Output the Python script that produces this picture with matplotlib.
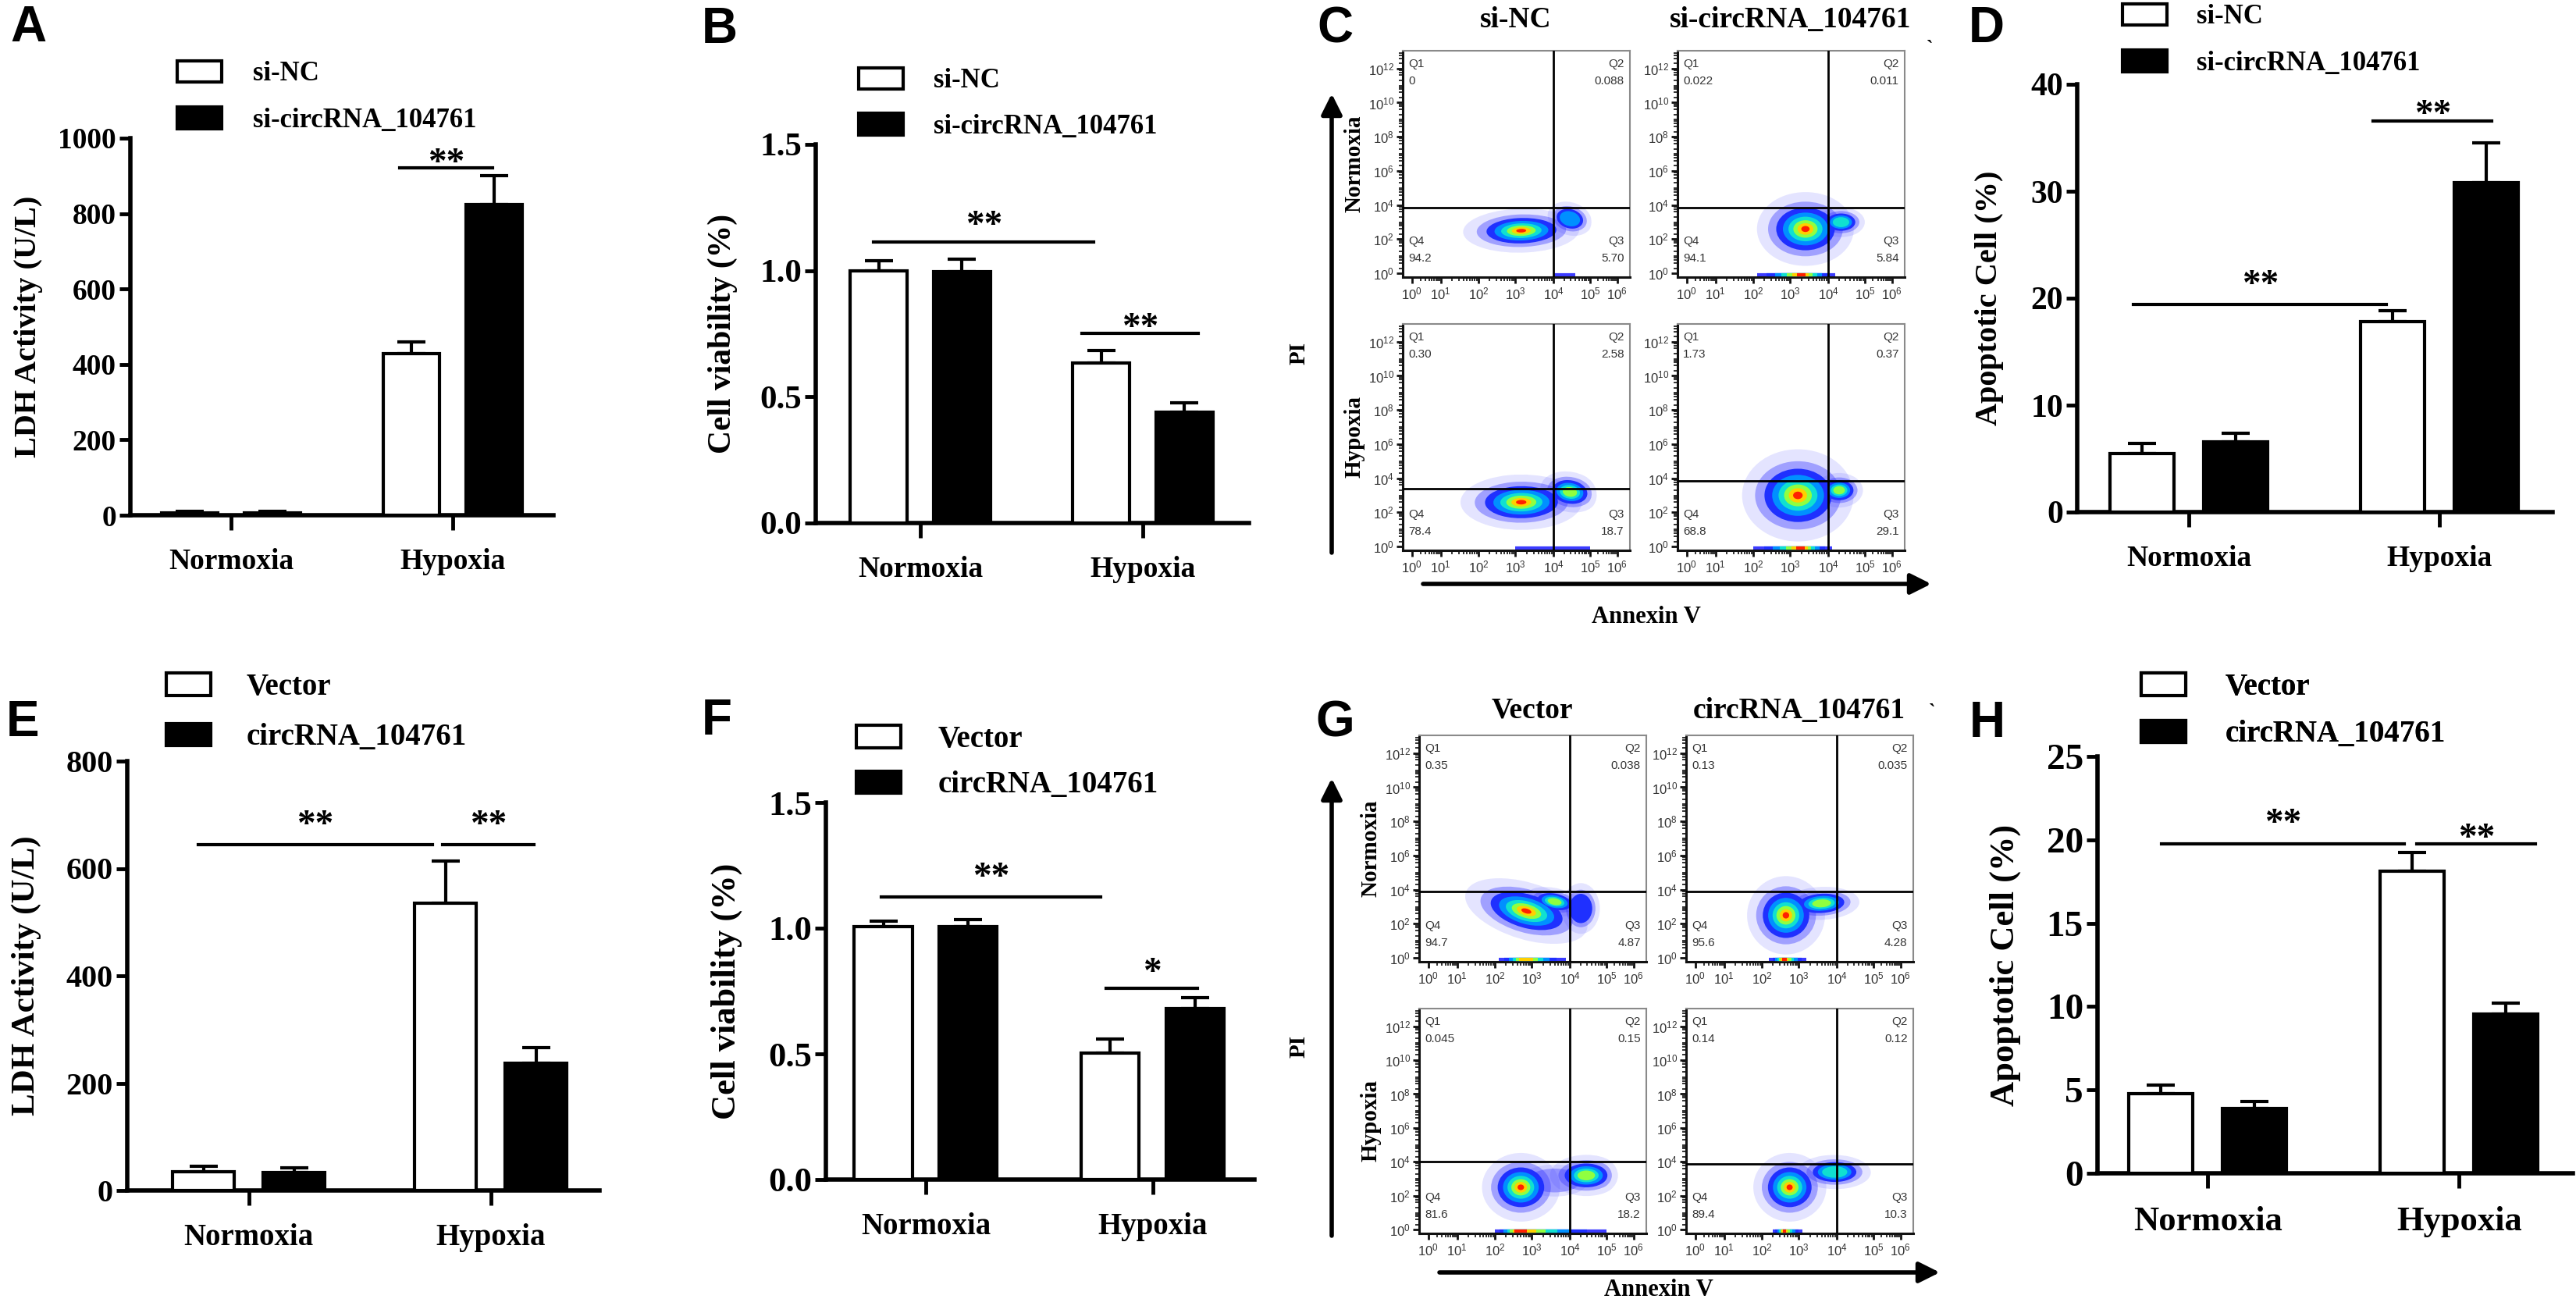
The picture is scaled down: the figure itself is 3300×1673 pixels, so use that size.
import numpy as np
import matplotlib
matplotlib.use('Agg')
import matplotlib.pyplot as plt
from matplotlib.patches import Ellipse, Patch
from matplotlib.ticker import FixedLocator

plt.rcParams['font.family'] = ['Liberation Serif', 'DejaVu Serif']
plt.rcParams['font.weight'] = 'bold'
plt.rcParams['axes.labelweight'] = 'bold'

W, H = 3300, 1673

# ---------------- data ----------------
groups = ['Normoxia', 'Hypoxia']

# A: LDH, si-NC vs si-circRNA_104761
a_white, a_white_err = [7, 428], [3, 32]
a_black, a_black_err = [7, 825], [3, 75]
# B: cell viability
b_white, b_white_err = [1.00, 0.635], [0.04, 0.05]
b_black, b_black_err = [0.995, 0.44], [0.05, 0.037]
# D: apoptotic cells
d_white, d_white_err = [5.45, 17.8], [0.95, 1.0]
d_black, d_black_err = [6.55, 30.8], [0.8, 3.7]
# E: LDH, Vector vs circRNA_104761
e_white, e_white_err = [35, 535], [10, 79]
e_black, e_black_err = [34, 237], [8, 29]
# F: cell viability
f_white, f_white_err = [1.005, 0.502], [0.022, 0.057]
f_black, f_black_err = [1.005, 0.68], [0.028, 0.045]
# H: apoptotic cells
h_white, h_white_err = [4.77, 18.1], [0.53, 1.14]
h_black, h_black_err = [3.89, 9.55], [0.43, 0.65]

# significance bars: (x0, x1, y_line, y_star, label)
a_sig = [(0.76, 1.18, 922, 952, '**')]
b_sig = [(-0.21, 0.78, 1.114, 1.206, '**'), (0.725, 1.25, 0.753, 0.80, '**')]
d_sig = [(-0.22, 0.79, 19.4, 21.9, '**'), (0.736, 1.21, 36.6, 37.8, '**')]
e_sig = [(-0.21, 0.76, 645, 694, '**'), (0.80, 1.18, 645, 694, '**')]
f_sig = [(-0.196, 0.772, 1.124, 1.23, '**'), (0.793, 1.198, 0.76, 0.85, '*')]
h_sig = [(-0.183, 0.783, 19.74, 21.4, '**'), (0.833, 1.304, 19.76, 20.5, '**')]

# flow cytometry quadrant percentages (Q1, Q2, Q3, Q4)
c_quads = [['0', '0.088', '5.70', '94.2'], ['0.022', '0.011', '5.84', '94.1'],
           ['0.30', '2.58', '18.7', '78.4'], ['1.73', '0.37', '29.1', '68.8']]
g_quads = [['0.35', '0.038', '4.87', '94.7'], ['0.13', '0.035', '4.28', '95.6'],
           ['0.045', '0.15', '18.2', '81.6'], ['0.14', '0.12', '10.3', '89.4']]
# horizontal gate (log10 PI) of each plot
c_gate = [3.85, 3.85, 3.4, 3.85]
g_gate = [3.9, 3.9, 4.0, 3.9]
# event clusters: (log10 AnnexinV, log10 PI, width, height, angle, density levels)
c_clusters = [
    [(3.15, 2.5, 2.4, 1.9, 8, 7), (4.45, 3.2, 0.9, 1.5, 10, 3)],
    [(3.4, 2.6, 2.0, 3.2, 0, 7), (4.35, 3.0, 1.0, 1.3, 0, 4)],
    [(3.15, 2.6, 2.5, 2.4, 12, 7), (4.45, 3.2, 1.2, 1.8, 10, 5)],
    [(3.2, 3.0, 2.3, 4.0, 0, 7), (4.3, 3.3, 1.0, 1.5, 0, 5)],
]
g_clusters = [
    [(2.85, 2.75, 2.0, 3.2, 35, 7), (3.6, 3.3, 1.0, 1.4, 35, 5), (4.3, 2.9, 0.8, 2.2, 0, 2)],
    [(2.65, 2.5, 1.6, 3.4, 0, 7), (3.6, 3.2, 1.6, 1.4, 30, 5)],
    [(2.7, 2.5, 1.6, 3.0, 0, 7), (3.6, 2.9, 1.4, 1.4, 0, 1), (4.45, 3.2, 1.5, 1.8, 0, 5)],
    [(2.75, 2.5, 1.5, 3.0, 0, 7), (3.95, 3.4, 1.5, 1.5, 20, 4)],
]
# events piled on the Annexin V axis: (from, to, peak, levels)
c_strip = [(4.0, 4.6, 4.3, 1), (2.1, 4.2, 3.3, 7), (3.0, 5.0, 4.0, 1), (2.0, 4.1, 3.3, 7)]
g_strip = [(2.1, 3.9, 2.8, 6), (2.2, 3.2, 2.6, 7), (2.0, 5.0, 2.6, 7), (2.3, 3.1, 2.6, 7)]

LEV_COLORS = ['#3c3cff', '#1f30ff', '#0090ff', '#10e0d0', '#90ff40', '#ffd000', '#ff2000']
LEV_SCALE = [1.0, 0.78, 0.6, 0.45, 0.32, 0.21, 0.11]

# biexponential-like display of the flow x axis (decade -> position)
FLOW_DEC = [-0.32, 0, 1, 2, 3, 4, 5, 6, 6.47]
FLOW_POS = [0, 23, 95, 190, 283, 378, 470, 538, 570]

fig = plt.figure(figsize=(W / 100, H / 100), dpi=100)


def px_axes(x0, y0, x1, y1):
    return fig.add_axes([x0 / W, 1 - y1 / H, (x1 - x0) / W, (y1 - y0) / H])


ov = fig.add_axes([0, 0, 1, 1], zorder=10)
ov.set_xlim(0, W)
ov.set_ylim(H, 0)
ov.axis('off')
ov.patch.set_alpha(0)

BW, OFF = 0.255, 0.187
pos = np.arange(2)


def bar_panel(box, xlim, white, werr, black, berr, ymax, step, fmt, ylabel, ylab_x,
              sigs, labels, leg, fs_tick, fs_grp, fs_ylab, fs_leg):
    ax = px_axes(*box)
    ax.bar(pos - OFF, white, BW, color='white', edgecolor='black', lw=3, zorder=3,
           label=labels[0])
    ax.bar(pos + OFF, black, BW, color='black', edgecolor='black', lw=3, zorder=3,
           label=labels[1])
    z = np.zeros(2)
    ax.errorbar(pos - OFF, white, yerr=[z, werr], fmt='none', ecolor='k',
                elinewidth=3, capsize=13, capthick=3, zorder=2)
    ax.errorbar(pos + OFF, black, yerr=[z, berr], fmt='none', ecolor='k',
                elinewidth=3, capsize=13, capthick=3, zorder=2)
    ax.set_xlim(*xlim)
    ax.set_ylim(0, ymax)
    for s in ['top', 'right']:
        ax.spines[s].set_visible(False)
    for s in ['left', 'bottom']:
        ax.spines[s].set_linewidth(4)
    ticks = np.arange(0, ymax + step / 2, step)
    ax.set_yticks(ticks)
    ax.set_yticklabels([fmt.format(t) for t in ticks], fontsize=fs_tick, fontweight='bold')
    ax.set_xticks(pos)
    ax.set_xticklabels(groups, fontsize=fs_grp, fontweight='bold')
    ax.tick_params(axis='y', length=10, width=3.5, pad=3)
    ax.tick_params(axis='x', length=14, width=3.5, pad=16)
    ax.set_ylabel(ylabel, fontsize=fs_ylab, fontweight='bold')
    fpx = fs_ylab * 100 / 72
    ax.yaxis.set_label_coords((ylab_x + 0.55 * fpx - box[0]) / (box[2] - box[0]), 0.5)
    ax.patch.set_alpha(0)
    for x0, x1, yl, ys, txt in sigs:
        ax.plot([x0, x1], [yl, yl], color='k', lw=3, clip_on=False, zorder=4)
        ax.annotate(txt, xy=((x0 + x1) / 2, ys), xytext=(0, -7), textcoords='offset points',
                    ha='center', va='center', fontsize=34, fontweight='bold',
                    annotation_clip=False)
    bx, wtop, pitch, tx = leg
    fpx = fs_leg * 100 / 72
    rowh = 1.15 * fpx
    handles = [Patch(facecolor='white', edgecolor='black', lw=3),
               Patch(facecolor='black', edgecolor='black', lw=3)]
    lg = ov.legend(handles, labels, loc='upper left',
                   bbox_to_anchor=(bx, wtop - (rowh - 29) / 2),
                   bbox_transform=ov.transData, frameon=False, borderpad=0,
                   borderaxespad=0, handlelength=57 / fpx, handleheight=29 / fpx,
                   handletextpad=(tx - bx - 57) / fpx,
                   labelspacing=(pitch - rowh) / fpx,
                   prop={'family': 'Liberation Serif', 'weight': 'bold', 'size': fs_leg})
    ov.add_artist(lg)
    return ax


siL = ['si-NC', 'si-circRNA_104761']
veL = ['Vector', 'circRNA_104761']

bar_panel((167, 177, 709, 660), (-0.454, 1.454), a_white, a_white_err, a_black, a_black_err,
          1000, 200, '{:.0f}', 'LDH Activity (U/L)', 33, a_sig, siL, (227, 83, 66, 324),
          27, 27, 29, 25)
bar_panel((1045, 185, 1600, 670), (-0.47, 1.477), b_white, b_white_err, b_black, b_black_err,
          1.5, 0.5, '{:.1f}', 'Cell viability (%)', 922, b_sig, siL, (1100, 92, 65, 1196),
          31, 27, 30, 25)
bar_panel((2661, 108, 3270, 656), (-0.445, 1.452), d_white, d_white_err, d_black, d_black_err,
          40, 10, '{:.0f}', 'Apoptotic Cell (%)', 2545, d_sig, siL, (2719, 10, 66, 2814),
          30, 27, 29, 25)
bar_panel((163, 975, 768, 1525), (-0.503, 1.45), e_white, e_white_err, e_black, e_black_err,
          800, 200, '{:.0f}', 'LDH Activity (U/L)', 29, e_sig, veL, (213, 870, 72, 316),
          29, 28, 31, 28)
bar_panel((1058, 1028, 1607, 1511), (-0.44, 1.448), f_white, f_white_err, f_black, f_black_err,
          1.5, 0.5, '{:.1f}', 'Cell viability (%)', 927, f_sig, veL, (1097, 937, 66, 1202),
          32, 28, 32, 28)
bar_panel((2687, 969, 3296, 1503), (-0.438, 1.453), h_white, h_white_err, h_black, h_black_err,
          25, 5, '{:.0f}', 'Apoptotic Cell (%)', 2565, h_sig, veL, (2743, 870, 68, 2851),
          34, 32, 32, 28)


def fwd(v):
    return np.interp(v, FLOW_DEC, FLOW_POS)


def inv(p):
    return np.interp(p, FLOW_POS, FLOW_DEC)


def flow_plot(ax, clusters, quads, gate, strip):
    ax.set_xscale('function', functions=(fwd, inv))
    ax.set_xlim(-0.32, 6.47)
    ax.set_ylim(-0.22, 13.04)
    # faint halo of scattered events around every population
    for cx, cy, w, h, ang, nl in clusters:
        ax.add_patch(Ellipse((cx, cy), w * 1.3, h * 1.35, angle=ang, fc='#5a5aff',
                             ec='none', alpha=0.16, zorder=1.5))
    for lev in range(7):
        for cx, cy, w, h, ang, nl in clusters:
            if lev < nl:
                s = LEV_SCALE[lev]
                ax.add_patch(Ellipse((cx, cy), w * s, h * s, angle=ang,
                                     fc=LEV_COLORS[lev], ec='none',
                                     alpha=0.4 if lev == 0 else 1.0, zorder=2 + lev))
    lo, hi, pk, nl = strip
    for lev in range(nl):
        s = LEV_SCALE[lev]
        ax.plot([pk - (pk - lo) * s, pk + (hi - pk) * s], [-0.08, -0.08],
                color=LEV_COLORS[lev], lw=3, solid_capstyle='butt', zorder=2 + lev)
    ax.axvline(4.0, color='k', lw=2, zorder=12)
    ax.axhline(gate, color='k', lw=2, zorder=12)
    for s in ['top', 'right']:
        ax.spines[s].set_color('#8a8a8a')
        ax.spines[s].set_linewidth(1.5)
    for s in ['left', 'bottom']:
        ax.spines[s].set_color('#111111')
        ax.spines[s].set_linewidth(2.2)
    xt = np.arange(0, 7)
    yt = np.arange(0, 13, 2)
    ax.set_xticks(xt)
    ax.set_xticklabels(['$\\mathregular{10^{%d}}$' % k for k in xt],
                       fontfamily='Liberation Sans', fontweight='normal',
                       fontsize=12, color='#333333')
    ax.set_yticks(yt)
    ax.set_yticklabels(['$\\mathregular{10^{%d}}$' % k for k in yt],
                       fontfamily='Liberation Sans', fontweight='normal',
                       fontsize=12, color='#333333')
    sub = np.log10(np.arange(2, 10))
    ax.xaxis.set_minor_locator(FixedLocator([d + s for d in range(0, 6) for s in sub]))
    ax.yaxis.set_minor_locator(FixedLocator([d + s for d in range(0, 13) for s in sub[::2]]
                                            + list(range(1, 13, 2))))
    ax.tick_params(which='major', length=6, width=2, pad=2, color='#111111')
    ax.tick_params(which='minor', length=3.5, width=1.2, color='#111111')
    qk = dict(fontsize=11, color='#333333', fontfamily='Liberation Sans',
              fontweight='normal', transform=ax.transAxes, linespacing=1.7, zorder=13)
    ax.text(0.025, 0.965, 'Q1\n' + quads[0], ha='left', va='top', **qk)
    ax.text(0.975, 0.965, 'Q2\n' + quads[1], ha='right', va='top', **qk)
    ax.text(0.975, 0.06, 'Q3\n' + quads[2], ha='right', va='bottom', **qk)
    ax.text(0.025, 0.06, 'Q4\n' + quads[3], ha='left', va='bottom', **qk)


def flow_panel(lefts, rows, titles, title_y, clusters, quads, gates, strips,
               letter, ly, ylabel_y, pi_y, arrow_y, annex_y, tick_mark):
    k = 0
    for r in range(2):
        for c in range(2):
            ax = px_axes(lefts[c], rows[r][0], lefts[c] + 291, rows[r][1])
            flow_plot(ax, clusters[k], quads[k], gates[k], strips[k])
            k += 1
    for c in range(2):
        ov.text(lefts[c] + 145, title_y, titles[c], ha='center', va='center', fontsize=27)
    ov.text(1710, ly, letter, ha='center', va='center', fontsize=46,
            fontfamily='Liberation Sans', fontweight='bold')
    ov.annotate('', xy=(1706, rows[0][0] + 55), xytext=(1706, rows[1][1] + 3),
                arrowprops=dict(arrowstyle='-|>', lw=4, color='k', mutation_scale=40,
                                shrinkA=0, shrinkB=0))
    lx = lefts[0] - 62
    ov.text(lx, ylabel_y[0], 'Normoxia', rotation=90, ha='center', va='center', fontsize=21)
    ov.text(lx, ylabel_y[1], 'Hypoxia', rotation=90, ha='center', va='center', fontsize=21)
    ov.text(1664, pi_y, 'PI', rotation=90, ha='center', va='center', fontsize=21)
    ov.annotate('', xy=(lefts[1] + 325, arrow_y), xytext=(lefts[0] + 26, arrow_y),
                arrowprops=dict(arrowstyle='-|>', lw=4, color='k', mutation_scale=40,
                                shrinkA=0, shrinkB=0))
    ov.text((lefts[0] + lefts[1] + 291) / 2 - 10, annex_y, 'Annexin V', ha='center',
            va='center', fontsize=22)
    ov.text(tick_mark[0], tick_mark[1], '`', ha='center', va='center', fontsize=18)


flow_panel([1797, 2149], [(65, 355), (415, 705)], ['si-NC', 'si-circRNA_104761'], 25,
           c_clusters, c_quads, c_gate, c_strip, 'C', 37, (210, 560), 452, 748, 790,
           (2472, 62))
flow_panel([1818, 2160], [(942, 1232), (1292, 1580)], ['Vector', 'circRNA_104761'], 910,
           g_clusters, g_quads, g_gate, g_strip, 'G', 926, (1087, 1436), 1340, 1630, 1652,
           (2475, 912))

for letter, x, y in [('A', 36, 36), ('B', 922, 38), ('D', 2545, 37),
                     ('E', 29, 926), ('F', 918, 924), ('H', 2546, 927)]:
    ov.text(x, y, letter, ha='center', va='center', fontsize=46,
            fontfamily='Liberation Sans', fontweight='bold')

fig.savefig('out.png', dpi=100, facecolor='white')
